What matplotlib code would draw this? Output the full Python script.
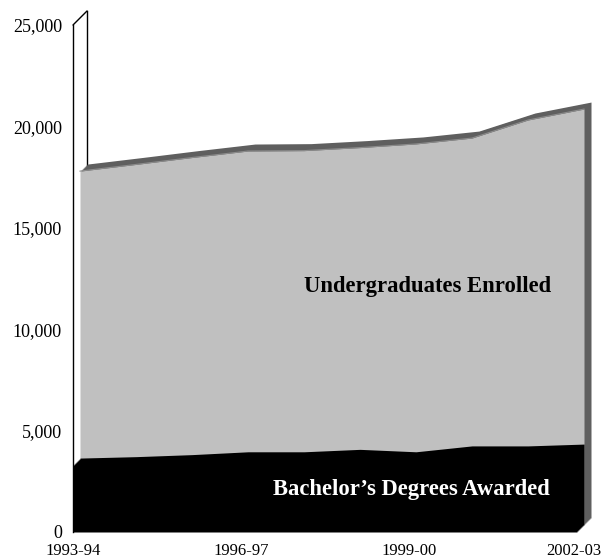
import numpy as np
import matplotlib.pyplot as plt
from matplotlib.transforms import ScaledTranslation

years = ['1993-94', '1994-95', '1995-96', '1996-97', '1997-98',
         '1998-99', '1999-00', '2000-01', '2001-02', '2002-03']
enrolled = [17450, 17780, 18120, 18440, 18460, 18610, 18790, 19080, 19970, 20510]
bachelors = [3300, 3370, 3470, 3610, 3610, 3730, 3610, 3900, 3900, 3990]
tick_idx = [0, 3, 6, 9]
ymax = 25000

plt.rcParams['font.family'] = ['Liberation Serif', 'DejaVu Serif']

fig = plt.figure(figsize=(6.03, 5.59), dpi=100)
ax = fig.add_axes([73 / 603, 27 / 559, 504 / 603, 507 / 559])
x = np.arange(len(years))

def shift(px, py=None):
    # fake 3d depth: move a layer up and right by px pixels
    if py is None:
        py = px
    return ax.transData + ScaledTranslation(px / 100, py / 100, fig.dpi_scale_trans)

depth = 7

# side wall of the value axis
ax.plot([0, 0], [0, ymax], color='black', lw=1, transform=shift(2 * depth), zorder=1, clip_on=False)
ax.plot([0, 0], [0, ymax], color='black', lw=1, zorder=1, clip_on=False)
ax.annotate('', xy=(0, ymax), xytext=(2 * depth, 2 * depth), textcoords='offset pixels',
            arrowprops=dict(arrowstyle='-', lw=1, color='black', shrinkA=0, shrinkB=0))

# back series: enrolled (grey slab, one row behind)
for k in range(2 * depth, depth, -1):
    ax.fill_between(x, 0, enrolled, color='#5f5f5f', lw=0, transform=shift(k), zorder=2, clip_on=False)
ax.fill_between(x, 0, enrolled, color='#c0c0c0', lw=0, transform=shift(depth), zorder=3, clip_on=False)
ax.plot(x, enrolled, color='#8c8c8c', lw=0.8, transform=shift(depth), zorder=3, clip_on=False)

# front series: bachelor's degrees (black slab)
for k in range(depth, -1, -1):
    ax.fill_between(x, 0, bachelors, color='black', lw=0, transform=shift(k), zorder=4, clip_on=False)

ax.text(6.33, 11850, 'Undergraduates Enrolled', fontsize=16.3, fontweight='bold',
        color='black', ha='center', va='baseline', zorder=5)
ax.text(6.04, 1820, 'Bachelor\u2019s Degrees Awarded', fontsize=16.3, fontweight='bold',
        color='white', ha='center', va='baseline', zorder=5)

ax.set_xlim(0, len(years) - 1)
ax.set_ylim(0, ymax)
ax.set_yticks(np.arange(0, ymax + 1, 5000))
ax.set_yticklabels(['{:,}'.format(v) for v in range(0, ymax + 1, 5000)])
ax.set_xticks(tick_idx)
ax.set_xticklabels([years[i] for i in tick_idx])
ax.tick_params(axis='both', length=0)
ax.tick_params(axis='y', pad=8, labelsize=13)
ax.tick_params(axis='x', pad=8, labelsize=12)
last = ax.get_xticklabels()[-1]
last.set_transform(last.get_transform() + ScaledTranslation(-0.03, 0, fig.dpi_scale_trans))
for s in ax.spines.values():
    s.set_visible(False)
ax.patch.set_visible(False)

fig.savefig('out.png', dpi=100)
